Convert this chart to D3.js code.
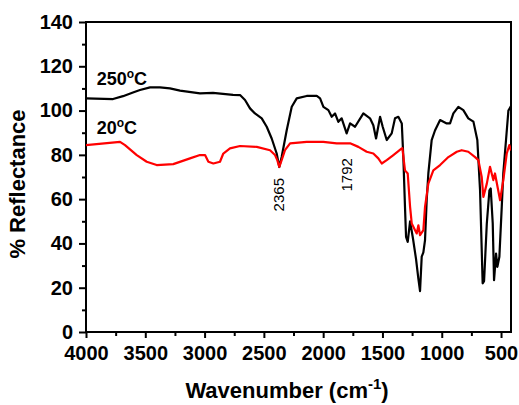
<!DOCTYPE html>
<html>
<head>
<meta charset="utf-8">
<script src="https://cdn.jsdelivr.net/npm/d3@7"></script>
<style>
  html, body { margin: 0; padding: 0; background: #fff; }
  svg { display: block; font-family: Arial, "Liberation Sans", sans-serif; }
</style>
</head>
<body>
<svg id="chart" width="519" height="405"></svg>
<script>
// ---- data ----
const xTicks = [4000, 3500, 3000, 2500, 2000, 1500, 1000, 500];
const yTicks = [0, 20, 40, 60, 80, 100, 120, 140];

// 250 °C spectrum
const hotWavenumber = [4000, 3772, 3688, 3604, 3545, 3460, 3376, 3292, 3207, 3039, 2929, 2760, 2701, 2659, 2617, 2575, 2518, 2476, 2434, 2392, 2370, 2350, 2307, 2265, 2223, 2139, 2054, 2026, 1998, 1956, 1928, 1900, 1872, 1844, 1802, 1773, 1731, 1661, 1605, 1577, 1554, 1520, 1498, 1464, 1422, 1394, 1366, 1337, 1324, 1310, 1301, 1287, 1267, 1242, 1217, 1197, 1183, 1169, 1155, 1141, 1127, 1113, 1085, 1057, 1014, 958, 930, 902, 860, 818, 776, 733, 700, 677, 655, 643, 620, 598, 587, 570, 559, 542, 531, 514, 494, 481, 458, 438, 416];
const hotReflectance = [105.5, 105.2, 106.5, 108.2, 109.3, 110.5, 110.5, 110, 109, 107.8, 108, 107.1, 107, 104.8, 101, 98.7, 96.5, 92.7, 87.4, 80.6, 74.5, 79, 91.2, 101.7, 105.5, 106.6, 106.6, 105.5, 101.7, 100.2, 97.2, 98.7, 94.9, 96.5, 89.7, 94.2, 92.7, 98.7, 96.5, 93.4, 87.4, 97.2, 92.7, 86.7, 89.7, 96.5, 97.2, 94.2, 79, 56.5, 43, 40.7, 50, 42, 33, 24, 18.5, 34, 36, 41.5, 59.5, 71.6, 86.7, 91, 95.7, 94.2, 94.2, 98.7, 101.7, 100.2, 96.5, 95, 86.7, 64, 22, 23, 49, 64, 64.8, 49, 23.4, 35.4, 29.4, 34, 56.5, 71.6, 86.7, 100, 102];

// 20 °C spectrum
const roomWavenumber = [4000, 3713, 3671, 3572, 3488, 3404, 3264, 3123, 3039, 2996, 2968, 2926, 2870, 2842, 2786, 2701, 2560, 2448, 2406, 2387, 2370, 2350, 2322, 2279, 2139, 1999, 1886, 1773, 1703, 1633, 1577, 1535, 1506, 1464, 1408, 1337, 1332, 1310, 1287, 1267, 1253, 1225, 1211, 1197, 1183, 1155, 1141, 1113, 1071, 1014, 944, 873, 832, 776, 719, 691, 663, 649, 620, 593, 565, 551, 508, 481, 452, 430, 416];
const roomReflectance = [84.4, 85.9, 84.4, 79.9, 76.9, 75.4, 75.8, 78.4, 79.9, 79.9, 76.9, 76.1, 76.9, 80.6, 82.9, 84, 83.6, 82.1, 79.9, 77.6, 74.6, 77.6, 82.1, 85.2, 85.9, 85.9, 85.2, 85.2, 83.6, 81.4, 80.6, 78.4, 76.1, 77.6, 79.9, 82.9, 83, 73, 71.6, 56.5, 49, 46, 44.5, 48.2, 43.7, 46, 56.5, 67, 73, 75.4, 79, 81.4, 82.1, 81.4, 79, 77.6, 70, 61, 67, 74.6, 68.6, 71.6, 59.5, 68.6, 80.6, 84.4, 82];

const seriesNames = ["250", "20"];
const seriesColors = ["#000000", "#ff0000"];
const peakLabels = ["2365", "1792"];
const peakPositions = [2365, 1792];
const peakLabelValues = [62, 71];

// ---- layout ----
const W = 519, H = 405;
const margin = { top: 22, right: 8, bottom: 73, left: 86 };
const iw = W - margin.left - margin.right;
const ih = H - margin.top - margin.bottom;

const svg = d3.select("#chart");
const g = svg.append("g").attr("transform", `translate(${margin.left},${margin.top})`);

const x = d3.scaleLinear().domain([4000, 416]).range([0, iw]);
const y = d3.scaleLinear().domain([0, 140]).range([ih, 0]);

// minor ticks
const xMinor = d3.range(3750, 400, -500);
const yMinor = d3.range(10, 140, 20);

g.append("g").attr("transform", `translate(0,${ih})`)
  .call(d3.axisBottom(x).tickValues(xMinor).tickSize(4).tickFormat(""))
  .call(s => s.select(".domain").remove())
  .selectAll("line").attr("stroke", "#000").attr("stroke-width", 2);
g.append("g")
  .call(d3.axisLeft(y).tickValues(yMinor).tickSize(4).tickFormat(""))
  .call(s => s.select(".domain").remove())
  .selectAll("line").attr("stroke", "#000").attr("stroke-width", 2);

const xAxis = g.append("g").attr("transform", `translate(0,${ih})`)
  .call(d3.axisBottom(x).tickValues(xTicks).tickSize(6).tickPadding(8).tickFormat(d3.format("d")));
xAxis.select(".domain").remove();
xAxis.selectAll("line").attr("stroke", "#000").attr("stroke-width", 2);
xAxis.selectAll("text").attr("fill", "#000").attr("font-size", 20).attr("font-weight", "bold")
  .attr("font-family", "Arial, 'Liberation Sans', sans-serif");

const yAxis = g.append("g")
  .call(d3.axisLeft(y).tickValues(yTicks).tickSize(7).tickPadding(6).tickFormat(d3.format("d")));
yAxis.select(".domain").remove();
yAxis.selectAll("line").attr("stroke", "#000").attr("stroke-width", 2);
yAxis.selectAll("text").attr("fill", "#000").attr("font-size", 20).attr("font-weight", "bold")
  .attr("font-family", "Arial, 'Liberation Sans', sans-serif");

// frame
g.append("rect").attr("x", 0).attr("y", 0).attr("width", iw).attr("height", ih)
  .attr("fill", "none").attr("stroke", "#000").attr("stroke-width", 2);

// curves
const line = d3.line().x(d => x(d[0])).y(d => y(d[1]));
const hot = hotWavenumber.map((w, i) => [w, hotReflectance[i]]);
const room = roomWavenumber.map((w, i) => [w, roomReflectance[i]]);
g.append("clipPath").attr("id", "clip").append("rect")
  .attr("width", iw).attr("height", ih);
g.append("path").datum(hot).attr("d", line).attr("fill", "none")
  .attr("stroke", seriesColors[0]).attr("stroke-width", 2.2).attr("stroke-linejoin", "round")
  .attr("clip-path", "url(#clip)");
g.append("path").datum(room).attr("d", line).attr("fill", "none")
  .attr("stroke", seriesColors[1]).attr("stroke-width", 2.2).attr("stroke-linejoin", "round")
  .attr("clip-path", "url(#clip)");

// series labels
const labelPos = [[3910, 111.5], [3910, 89.5]];
seriesNames.forEach((n, i) => {
  const t = g.append("text").attr("x", x(labelPos[i][0])).attr("y", y(labelPos[i][1]))
    .attr("font-size", 18).attr("font-weight", "bold").attr("fill", "#000");
  t.append("tspan").text(n);
  t.append("tspan").text("o").attr("font-size", 12).attr("dy", -7);
  t.append("tspan").text("C").attr("dy", 7);
});

// peak annotations (rotated)
peakLabels.forEach((lab, i) => {
  const px = x(peakPositions[i]) - 1, py = y(peakLabelValues[i]);
  g.append("text").attr("transform", `translate(${px},${py}) rotate(-90)`)
    .attr("text-anchor", "middle").attr("dy", "0.35em")
    .attr("font-size", 15).attr("fill", "#000").text(lab);
});

// axis titles
const xt = svg.append("text").attr("x", 287).attr("y", 398)
  .attr("text-anchor", "middle").attr("font-size", 22).attr("font-weight", "bold").attr("fill", "#000");
xt.append("tspan").text("Wavenumber (cm");
xt.append("tspan").text("-1").attr("font-size", 15).attr("dy", -9);
xt.append("tspan").text(")").attr("dy", 9);

svg.append("text").attr("transform", `translate(25,184) rotate(-90)`)
  .attr("text-anchor", "middle").attr("font-size", 22).attr("font-weight", "bold").attr("fill", "#000")
  .text("% Reflectance");
</script>
</body>
</html>
